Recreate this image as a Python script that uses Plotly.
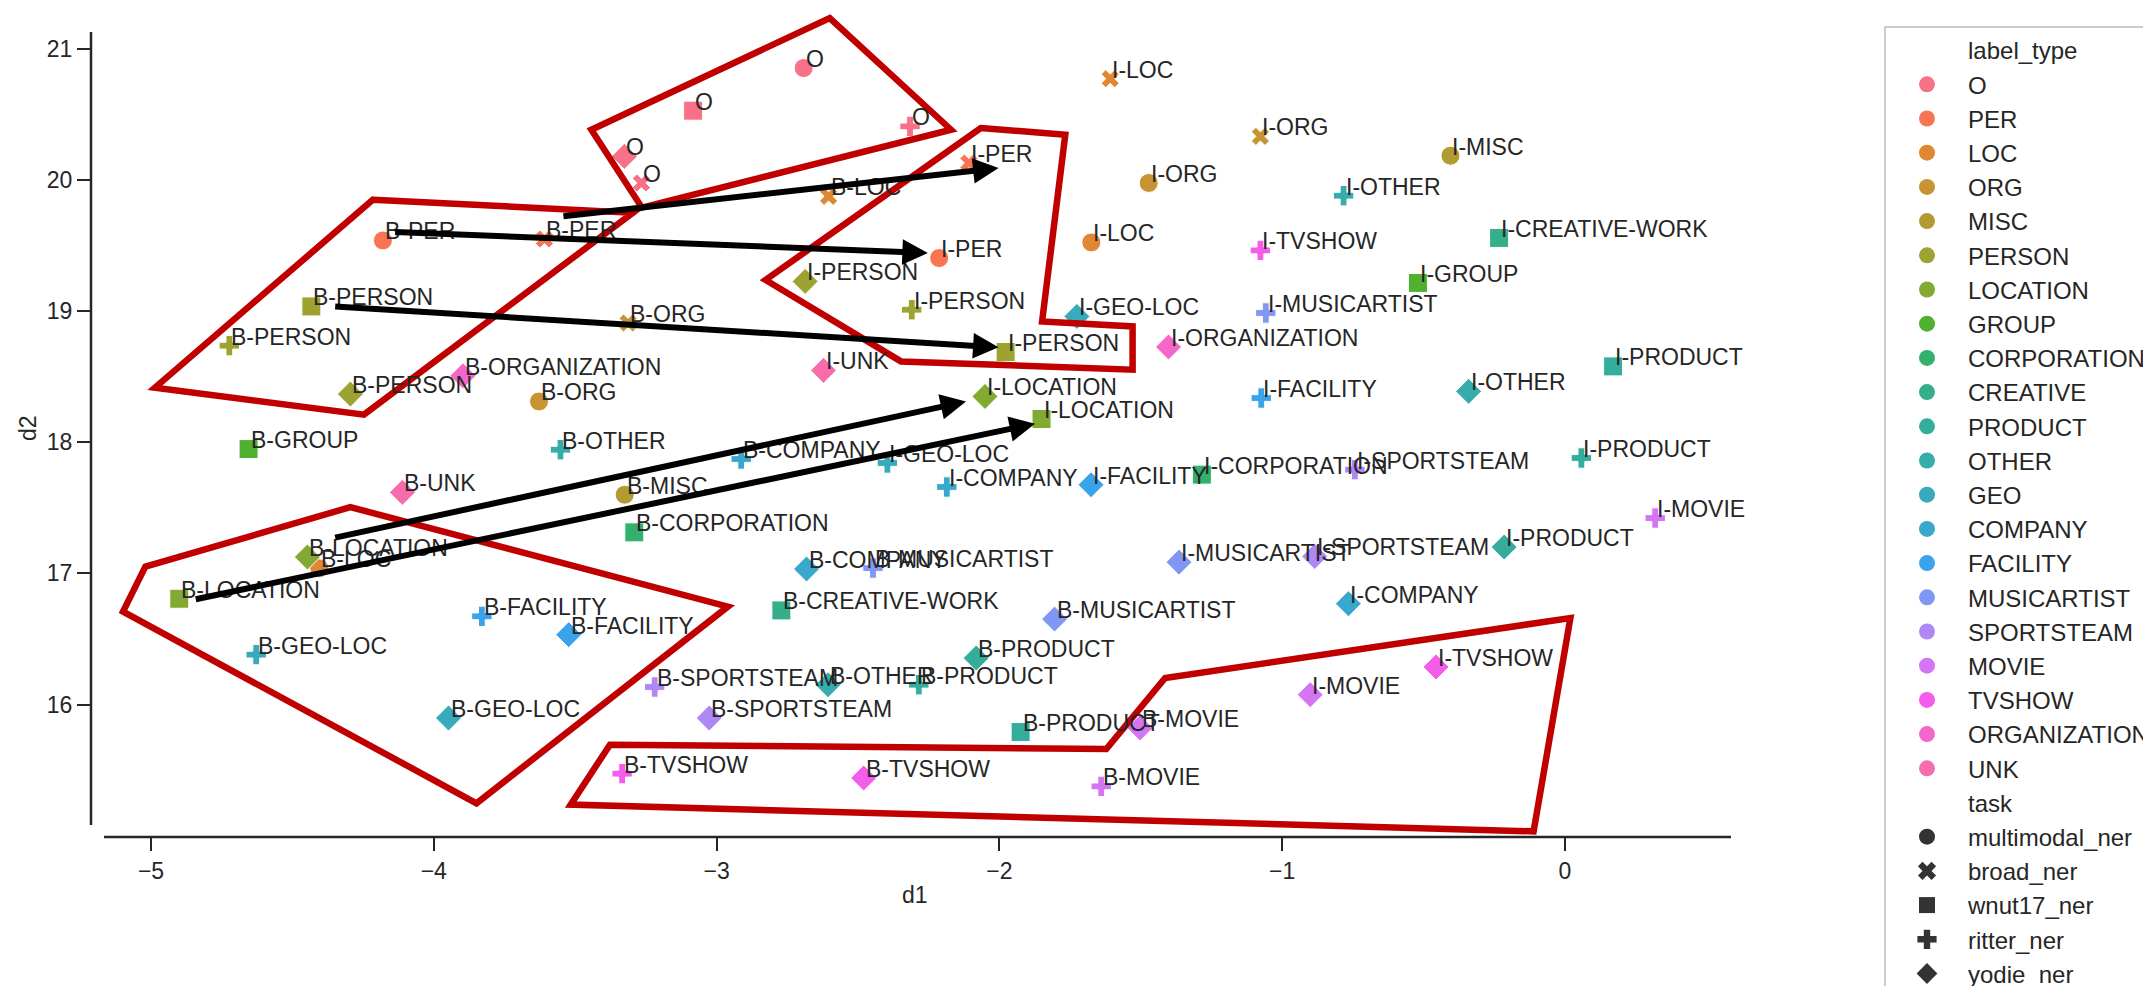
import math
import plotly.graph_objects as go

# 2-D embedding of the label vocabulary of each NER task
TASKS = ["multimodal_ner", "broad_ner", "wnut17_ner", "ritter_ner", "yodie_ner"]
LABEL_TYPES = ["O", "PER", "LOC", "ORG", "MISC", "PERSON", "LOCATION", "GROUP",
               "CORPORATION", "CREATIVE", "PRODUCT", "OTHER", "GEO", "COMPANY",
               "FACILITY", "MUSICARTIST", "SPORTSTEAM", "MOVIE", "TVSHOW",
               "ORGANIZATION", "UNK"]

multimodal_labels = ["O", "B-PER", "I-PER", "B-LOC", "I-LOC", "B-ORG", "I-ORG",
                     "B-MISC", "I-MISC"]
multimodal_d1 = [-2.692, -4.180, -2.213, -4.405, -1.675, -3.628, -1.472, -3.325, -0.405]
multimodal_d2 = [20.851, 19.537, 19.403, 17.038, 19.522, 18.310, 19.975, 17.599, 20.183]

broad_labels = ["O", "B-PER", "I-PER", "B-LOC", "I-LOC", "B-ORG", "I-ORG"]
broad_d1 = [-3.266, -3.609, -2.108, -2.604, -1.608, -3.313, -1.077]
broad_d2 = [19.975, 19.548, 20.127, 19.873, 20.770, 18.908, 20.330]

wnut17_labels = ["O", "B-PERSON", "I-PERSON", "B-LOCATION", "I-LOCATION", "B-GROUP",
                 "I-GROUP", "B-CORPORATION", "I-CORPORATION", "B-CREATIVE-WORK",
                 "I-CREATIVE-WORK", "B-PRODUCT", "I-PRODUCT"]
wnut17_d1 = [-3.083, -4.433, -1.978, -4.900, -1.851, -4.655, -0.520, -3.291, -1.284,
             -2.771, -0.233, -1.925, 0.170]
wnut17_d2 = [20.526, 19.034, 18.687, 16.806, 18.176, 17.947, 19.213, 17.312, 17.752,
             16.717, 19.556, 15.790, 18.577]

ritter_labels = ["O", "B-PERSON", "I-PERSON", "B-GEO-LOC", "I-GEO-LOC", "B-COMPANY",
                 "I-COMPANY", "B-FACILITY", "I-FACILITY", "B-PRODUCT", "I-PRODUCT",
                 "B-MUSICARTIST", "I-MUSICARTIST", "B-SPORTSTEAM", "I-SPORTSTEAM",
                 "B-MOVIE", "I-MOVIE", "B-TVSHOW", "I-TVSHOW", "B-OTHER", "I-OTHER"]
ritter_d1 = [-2.316, -4.723, -2.310, -4.628, -2.396, -2.913, -2.186, -3.830, -1.074,
             -2.285, 0.058, -2.447, -1.058, -3.219, -0.743, -1.640, 0.319, -3.334,
             -1.077, -3.552, -0.783]
ritter_d2 = [20.406, 18.735, 19.009, 16.380, 17.841, 17.871, 17.658, 16.672, 18.336,
             16.151, 17.879, 17.040, 18.984, 16.133, 17.790, 15.376, 17.421, 15.473,
             19.461, 17.942, 19.878]

yodie_labels = ["O", "B-PERSON", "I-PERSON", "B-LOCATION", "I-LOCATION",
                "B-ORGANIZATION", "I-ORGANIZATION", "B-UNK", "I-UNK", "B-GEO-LOC",
                "I-GEO-LOC", "B-COMPANY", "I-COMPANY", "B-FACILITY", "I-FACILITY",
                "B-MUSICARTIST", "I-MUSICARTIST", "B-SPORTSTEAM", "I-SPORTSTEAM",
                "B-PRODUCT", "I-PRODUCT", "B-OTHER", "I-OTHER", "B-MOVIE", "I-MOVIE",
                "B-TVSHOW", "I-TVSHOW"]
yodie_d1 = [-3.326, -4.295, -2.687, -4.447, -2.051, -3.897, -1.402, -4.111, -2.622,
            -3.948, -1.726, -2.682, -0.766, -3.523, -1.676, -1.805, -1.365, -3.026,
            -0.885, -2.082, -0.215, -2.606, -0.341, -1.503, -0.901, -2.480, -0.456]
yodie_d2 = [20.178, 18.366, 19.225, 17.124, 18.348, 18.506, 18.725, 17.617, 18.547,
            15.897, 18.958, 17.033, 16.768, 16.532, 17.675, 16.651, 17.085, 15.897,
            17.129, 16.354, 17.200, 16.151, 18.387, 15.821, 16.075, 15.440, 16.286]

# hand-drawn highlight regions (d1, d2 vertices)
poly_per_d1 = [-4.215, -3.296, -4.247, -4.986]
poly_per_d2 = [19.848, 19.748, 18.209, 18.415]
poly_o_d1 = [-3.443, -2.600, -2.171, -3.264]
poly_o_d2 = [20.381, 21.232, 20.381, 19.787]
poly_iper_d1 = [-2.066, -1.767, -1.849, -1.529, -1.529, -2.348, -2.827]
poly_iper_d2 = [20.394, 20.343, 18.920, 18.882, 18.552, 18.615, 19.236]
poly_loc_d1 = [-5.020, -4.295, -2.960, -3.849, -5.099]
poly_loc_d2 = [17.051, 17.504, 16.746, 15.247, 16.708]
poly_show_d1 = [-3.377, -1.622, -1.414, 0.019, -0.111, -3.516]
poly_show_d2 = [15.694, 15.661, 16.202, 16.659, 15.033, 15.237]

# arrows: tail -> head
arrow_tail_d1 = [-3.547, -4.142, -4.354, -4.354, -4.847]
arrow_tail_d2 = [19.720, 19.601, 19.034, 17.269, 16.800]
arrow_head_d1 = [-2.003, -2.253, -2.003, -2.118, -1.874]
arrow_head_d2 = [20.089, 19.441, 18.722, 18.310, 18.140]

W, H = 2143, 986
FONT = "Liberation Sans, Arial, sans-serif"
INK = "#262626"


# seaborn-style husl palette
_M = [[3.2406, -1.5372, -0.4986],
      [-0.9689, 1.8758, 0.0415],
      [0.0557, -0.2040, 1.0570]]


def _max_chroma(L, Hh):
    hrad = math.radians(Hh)
    sinH, cosH = math.sin(hrad), math.cos(hrad)
    sub1 = (L + 16) ** 3 / 1560896.0
    sub2 = sub1 if sub1 > 0.008856 else L / 903.3
    result = float("inf")
    for m1, m2, m3 in _M:
        top = (0.99915 * m1 + 1.05122 * m2 + 1.14460 * m3) * sub2
        rbottom = 0.86330 * m3 - 0.17266 * m2
        lbottom = 0.12949 * m3 - 0.38848 * m1
        bottom = (rbottom * sinH + lbottom * cosH) * sub2
        for t in (0.0, 1.0):
            C = L * (top - 1.05122 * t) / (bottom + 0.17266 * sinH * t)
            if 0.0 < C < result:
                result = C
    return result


def husl_hex(Hh, S, L):
    C = _max_chroma(L, Hh) / 100.0 * S
    U = math.cos(math.radians(Hh)) * C
    V = math.sin(math.radians(Hh)) * C
    t = (L + 16.0) / 116.0
    varY = t ** 3 if t ** 3 > 0.008856 else (116.0 * t - 16.0) / 903.3
    varU = U / (13.0 * L) + 0.19784
    varV = V / (13.0 * L) + 0.46834
    Y = varY
    X = -(9.0 * Y * varU) / ((varU - 4.0) * varV - varU * varV)
    Z = (9.0 * Y - 15.0 * varV * Y - varV * X) / (3.0 * varV)
    out = []
    for row in _M:
        c = row[0] * X + row[1] * Y + row[2] * Z
        c = 12.92 * c if c <= 0.0031308 else 1.055 * c ** (1 / 2.4) - 0.055
        out.append(int(round(min(max(c, 0.0), 1.0) * 255)))
    return "#%02x%02x%02x" % tuple(out)


n = len(LABEL_TYPES)
PALETTE = {}
for i, lt in enumerate(LABEL_TYPES):
    h = ((i / n) + 0.01) % 1 * 359
    PALETTE[lt] = husl_hex(h, 0.9 * 99, 0.65 * 99)

SYMBOLS = {"multimodal_ner": "circle", "broad_ner": "x", "wnut17_ner": "square",
           "ritter_ner": "cross", "yodie_ner": "diamond"}
SIZES = {"circle": 19, "x": 16, "square": 19, "cross": 17, "diamond": 20}

DATA = {
    "multimodal_ner": (multimodal_labels, multimodal_d1, multimodal_d2),
    "broad_ner": (broad_labels, broad_d1, broad_d2),
    "wnut17_ner": (wnut17_labels, wnut17_d1, wnut17_d2),
    "ritter_ner": (ritter_labels, ritter_d1, ritter_d2),
    "yodie_ner": (yodie_labels, yodie_d1, yodie_d2),
}


def label_type(lbl):
    return "O" if lbl == "O" else lbl[2:].split("-")[0]


fig = go.Figure()
annotations = []

for task in TASKS:
    labels, d1, d2 = DATA[task]
    sym = SYMBOLS[task]
    fig.add_trace(go.Scatter(
        x=d1, y=d2, mode="markers", showlegend=False, hoverinfo="text",
        hovertext=labels,
        marker=dict(symbol=sym, size=SIZES[sym],
                    color=[PALETTE[label_type(l)] for l in labels],
                    line=dict(width=1, color="white"))))
    for l, x, y in zip(labels, d1, d2):
        annotations.append(dict(x=x, y=y, xref="x", yref="y", text=l,
                                showarrow=False, xanchor="left", yanchor="bottom",
                                yshift=-6, font=dict(family=FONT, size=23, color=INK)))

# legend entries
blank = "rgba(0,0,0,0)"
fig.add_trace(go.Scatter(x=[None], y=[None], mode="markers", name="label_type",
                         marker=dict(color=blank, size=15)))
for lt in LABEL_TYPES:
    fig.add_trace(go.Scatter(x=[None], y=[None], mode="markers", name=lt,
                             marker=dict(color=PALETTE[lt], size=16, symbol="circle")))
fig.add_trace(go.Scatter(x=[None], y=[None], mode="markers", name="task",
                         marker=dict(color=blank, size=15)))
for task in TASKS:
    sym = SYMBOLS[task]
    fig.add_trace(go.Scatter(x=[None], y=[None], mode="markers", name=task,
                             marker=dict(color="#333333", size=16, symbol=sym)))

# highlight polygons
shapes = []
for pd1, pd2 in [(poly_per_d1, poly_per_d2), (poly_o_d1, poly_o_d2),
                 (poly_iper_d1, poly_iper_d2), (poly_loc_d1, poly_loc_d2),
                 (poly_show_d1, poly_show_d2)]:
    path = "M" + " L".join("%g,%g" % (a, b) for a, b in zip(pd1, pd2)) + " Z"
    shapes.append(dict(type="path", path=path, xref="x", yref="y", layer="above",
                       line=dict(color="#c00000", width=6.5)))

for tx, ty, hx, hy in zip(arrow_tail_d1, arrow_tail_d2, arrow_head_d1, arrow_head_d2):
    annotations.append(dict(x=hx, y=hy, ax=tx, ay=ty, xref="x", yref="y",
                            axref="x", ayref="y", text="", showarrow=True,
                            arrowhead=2, arrowsize=0.85, arrowwidth=6,
                            arrowcolor="black", standoff=0, startstandoff=0))


# offset spines (pixel geometry)
def px(xp):
    return xp / W


def py(yp):
    return 1 - yp / H


shapes.append(dict(type="line", xref="paper", yref="paper", x0=px(91), x1=px(91),
                   y0=py(825), y1=py(32), line=dict(color=INK, width=2.5)))
shapes.append(dict(type="line", xref="paper", yref="paper", x0=px(104), x1=px(1731),
                   y0=py(837), y1=py(837), line=dict(color=INK, width=2.5)))

annotations.append(dict(x=px(915), y=py(895), xref="paper", yref="paper", text="d1",
                        showarrow=False, xanchor="center", yanchor="middle",
                        font=dict(family=FONT, size=23, color=INK)))
annotations.append(dict(x=px(28), y=py(428), xref="paper", yref="paper", text="d2",
                        showarrow=False, textangle=-90, xanchor="center",
                        yanchor="middle", font=dict(family=FONT, size=23, color=INK)))

# axis ranges from pixel calibration: d1=-5 at x=151, 282.8 px/unit; d2=20 at y=179.7, 131.2 px/unit
x_left, x_right = 91, 1800
y_bottom, y_top = 837, 0
xr = [(x_left - 1565) / 282.8, (x_right - 1565) / 282.8]
yr = [20 - (y_bottom - 179.7) / 131.2, 20 - (y_top - 179.7) / 131.2]

fig.update_xaxes(domain=[px(x_left), px(x_right)], range=xr, showgrid=False,
                 zeroline=False, showline=False, ticks="outside", ticklen=13,
                 tickwidth=2, tickcolor=INK, tickvals=[-5, -4, -3, -2, -1, 0],
                 tickfont=dict(family=FONT, size=23, color=INK))
fig.update_yaxes(domain=[py(y_bottom), py(y_top)], range=yr, showgrid=False,
                 zeroline=False, showline=False, ticks="outside", ticklen=13,
                 tickwidth=2, tickcolor=INK, tickvals=[16, 17, 18, 19, 20, 21],
                 tickfont=dict(family=FONT, size=23, color=INK))

fig.update_layout(
    width=W, height=H,
    margin=dict(l=0, r=0, t=0, b=0, autoexpand=False),
    plot_bgcolor="white", paper_bgcolor="white",
    shapes=shapes, annotations=annotations,
    legend=dict(x=px(1884), y=py(26), xanchor="left", yanchor="top",
                bgcolor="white", bordercolor="#cccccc", borderwidth=2,
                itemwidth=72, font=dict(family=FONT, size=24, color=INK)),
)

fig.write_html("out.html", config={"displayModeBar": False},
               post_script="document.body.style.margin='0px';"
                           "document.body.style.overflow='hidden';")
